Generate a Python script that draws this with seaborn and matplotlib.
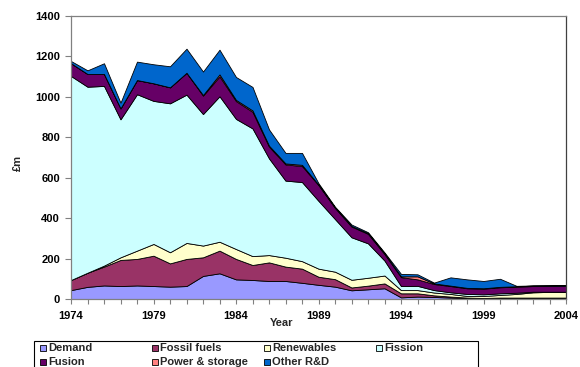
import matplotlib
matplotlib.use("Agg")
import matplotlib.pyplot as plt
from matplotlib.patches import Rectangle
import numpy as np
import pandas as pd
import seaborn as sns

# UK public energy R&D spending by area, £m
years = list(range(1974, 2005))
demand = [44, 60, 67, 64, 67, 64, 61, 64, 114, 127, 97, 94, 89, 89, 80, 70,
          61, 43, 48, 53, 8, 12, 10, 7, 3, 3, 3, 3, 3, 3, 3]
fossil_fuels = [50, 70, 93, 129, 131, 150, 115, 134, 92, 112, 101, 74, 92, 71, 70, 40,
                37, 14, 18, 24, 20, 16, 8, 5, 4, 2, 4, 4, 4, 4, 4]
renewables = [0, 0, 5, 13, 41, 58, 55, 79, 58, 44, 49, 44, 36, 44, 37, 40,
              37, 38, 39, 39, 16, 16, 14, 13, 8, 10, 13, 18, 26, 28, 29]
fission = [1008, 919, 888, 682, 773, 707, 736, 733, 650, 719, 643, 631, 478, 381, 391, 335,
           260, 210, 170, 74, 20, 21, 12, 8, 10, 8, 8, 6, 3, 1, 0]
fusion = [63, 63, 59, 54, 70, 87, 79, 108, 91, 98, 88, 82, 58, 80, 79, 78,
          55, 53, 47, 32, 44, 32, 30, 31, 28, 28, 30, 30, 28, 28, 28]
power_storage = [0, 0, 0, 0, 0, 0, 0, 0, 3, 10, 6, 7, 5, 5, 6, 2,
                 2, 3, 3, 3, 4, 15, 3, 2, 2, 2, 2, 2, 2, 2, 2]
other_rd = [11, 18, 53, 28, 91, 94, 104, 119, 116, 122, 113, 116, 80, 52, 59, 7,
            4, 7, 5, 5, 12, 10, 4, 41, 42, 36, 40, 2, 1, 2, 3]

series_names = ["Demand", "Fossil fuels", "Renewables", "Fission",
                "Fusion", "Power & storage", "Other R&D"]
series_colors = ["#9999FF", "#993366", "#FFFFCC", "#CCFFFF",
                 "#660066", "#FF8080", "#0066CC"]

df = pd.DataFrame({
    "Year": years,
    "Demand": demand,
    "Fossil fuels": fossil_fuels,
    "Renewables": renewables,
    "Fission": fission,
    "Fusion": fusion,
    "Power & storage": power_storage,
    "Other R&D": other_rd,
})

sns.set_theme(style="white")
plt.rcParams["font.family"] = ["Liberation Sans", "DejaVu Sans"]
plt.rcParams["font.weight"] = "bold"

W, H = 580, 367
fig = plt.figure(figsize=(W / 100, H / 100), dpi=100)
ax = fig.add_axes([71 / W, 1 - 299 / H, (566 - 71) / W, (299 - 15.7) / H])

ax.stackplot(df["Year"], [df[n] for n in series_names],
             colors=series_colors, edgecolor="black", linewidth=0.6)

ax.set_xlim(1974, 2004)
ax.set_ylim(0, 1400)
ax.set_yticks(np.arange(0, 1401, 200))
ax.set_xticks(years)
ax.set_xticklabels([str(y) if (y - 1974) % 5 == 0 else "" for y in years])

ax.tick_params(axis="both", which="major", direction="out", colors="#808080",
               labelcolor="black", labelsize=8, width=0.8)
ax.tick_params(axis="y", length=4, pad=4)
ax.tick_params(axis="x", length=3.5, pad=5)
ax.tick_params(left=True, bottom=True)
for lab in ax.get_xticklabels() + ax.get_yticklabels():
    lab.set_fontweight("bold")

for side in ["left", "bottom", "top"]:
    ax.spines[side].set_color("#808080")
    ax.spines[side].set_linewidth(0.9)
ax.spines["right"].set_color("#404040")
ax.spines["right"].set_linewidth(0.9)

ax.set_xlabel("Year", fontsize=8, fontweight="bold")
ax.xaxis.set_label_coords((282 - 71) / (566 - 71), -0.068)
fig.text(18 / W, 1 - 163 / H, "£m", rotation=90, ha="center", va="center",
         fontsize=8, fontweight="bold")

# legend box below the chart, entries in four evenly spaced columns
fig.patches.append(Rectangle((34 / W, -0.2), (478 - 34) / W, 0.2 + 1 - 340.7 / H,
                             transform=fig.transFigure, facecolor="white",
                             edgecolor="black", linewidth=0.8, zorder=1))
col_x = [40, 152, 264, 376]
row_y = [348, 362]
sq = 6
for i, (name, color) in enumerate(zip(series_names, series_colors)):
    cx = col_x[i % 4]
    cy = row_y[i // 4]
    fig.patches.append(Rectangle((cx / W, 1 - (cy + sq / 2) / H), sq / W, sq / H,
                                 transform=fig.transFigure, facecolor=color,
                                 edgecolor="black", linewidth=0.6, zorder=2))
    fig.text((cx + sq + 2) / W, 1 - cy / H, name, ha="left", va="center",
             fontsize=8, fontweight="bold", zorder=3)

fig.savefig("out.png", dpi=100)
